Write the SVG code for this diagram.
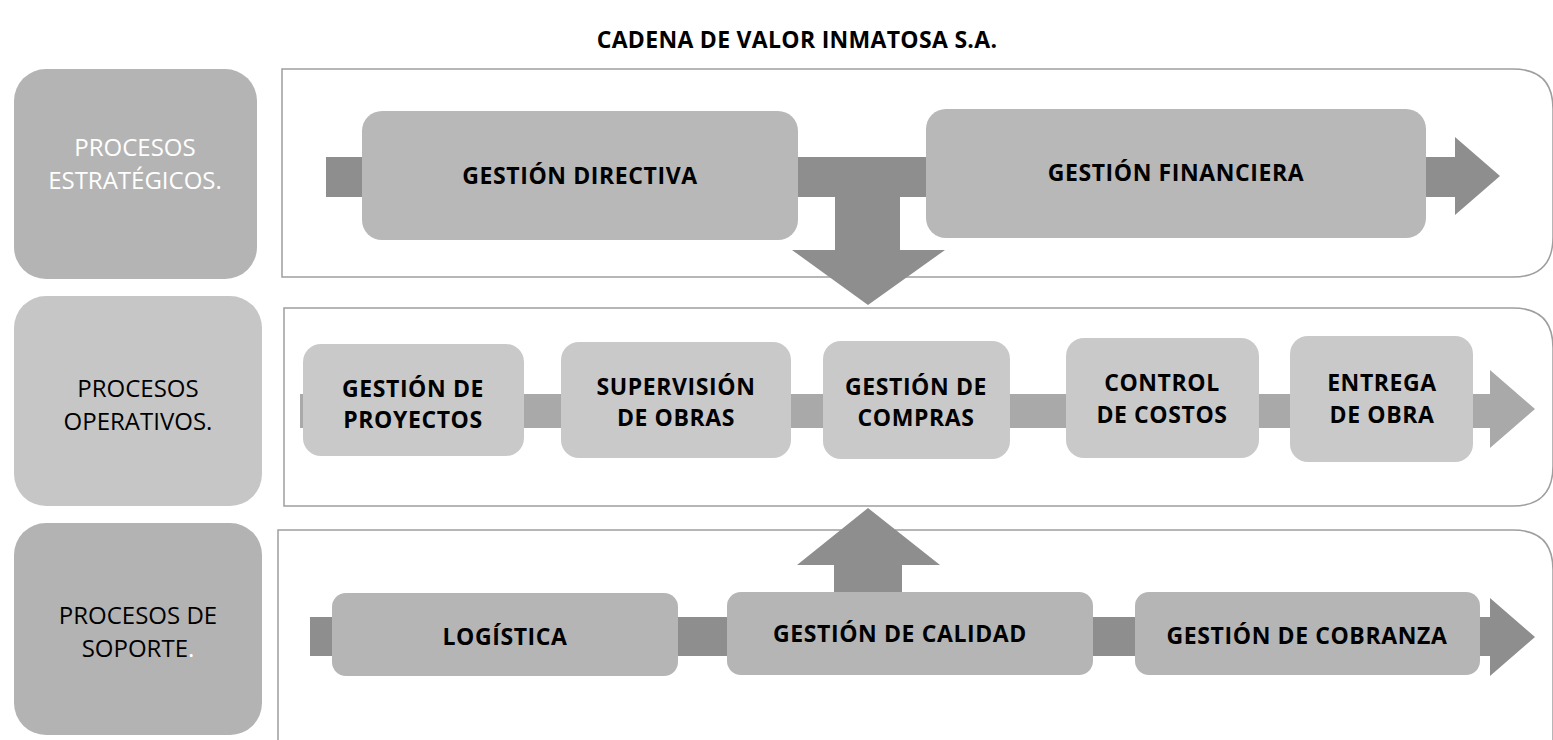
<svg xmlns="http://www.w3.org/2000/svg" width="1553" height="740" viewBox="0 0 1553 740">
<style>
  .lbl{font-family:"Open Sans","Liberation Sans",sans-serif;font-size:24px;text-anchor:middle}
  .b{font-family:"Open Sans","Liberation Sans",sans-serif;font-size:23px;font-weight:bold;letter-spacing:0.6px;text-anchor:middle;fill:#000}
  .cont{fill:#fff;stroke:#9e9e9e;stroke-width:1.5}
  .arrD{fill:#8e8e8e}
  .arrL{fill:#a9a9a9}
  .sBox{fill:#b8b8b8}
  .oBox{fill:#c9c9c9}
  .pBox{fill:#b5b5b5}
</style>
<rect width="1553" height="740" fill="#fff"/>
<text x="797" y="48" class="b" style="font-size:23px;letter-spacing:0.3px">CADENA DE VALOR INMATOSA S.A.</text>

<!-- left labels -->
<g id="lbl-estrategicos">
  <rect x="14" y="69" width="243" height="210" rx="32" fill="#b4b4b4"/>
  <text class="lbl" fill="#fff"><tspan x="135" y="156">PROCESOS</tspan><tspan x="135" y="189">ESTRATÉGICOS.</tspan></text>
</g>
<g id="lbl-operativos">
  <rect x="14" y="296" width="248" height="210" rx="32" fill="#c6c6c6"/>
  <text class="lbl" fill="#000"><tspan x="138" y="397">PROCESOS</tspan><tspan x="138" y="430">OPERATIVOS.</tspan></text>
</g>
<g id="lbl-soporte">
  <rect x="14" y="523" width="248" height="212" rx="32" fill="#b3b3b3"/>
  <text class="lbl" fill="#000"><tspan x="138" y="624">PROCESOS DE</tspan><tspan x="138" y="657">SOPORTE<tspan fill="#fff">.</tspan></tspan></text>
</g>

<!-- containers -->
<g id="containers">
  <path class="cont" d="M282,69 H1513 Q1553,69 1553,109 V237 Q1553,277 1513,277 H282 Z"/>
  <path class="cont" d="M284,308 H1513 Q1553,308 1553,348 V466 Q1553,506 1513,506 H284 Z"/>
  <path class="cont" d="M278,530 H1513 Q1553,530 1553,570 V760 H278 Z"/>
</g>

<!-- connectors -->
<g id="connectors">
  <polygon class="arrD" points="326,157 1455,157 1455,137 1500,176 1455,215 1455,197 326,197"/>
  <polygon class="arrD" points="835,197 900,197 900,250 945,250 868,305 792,250 835,250"/>
  <polygon class="arrL" points="300,394 1490,394 1490,370 1535,409 1490,448 1490,428 300,428"/>
  <polygon class="arrD" points="834,592 834,565 797,565 868,508 940,565 902,565 902,592"/>
  <polygon class="arrD" points="310,617 1490,617 1490,598 1535,637 1490,676 1490,656 310,656"/>
</g>

<!-- strategic nodes -->
<g id="gestion-directiva">
  <rect class="sBox" x="362" y="111" width="436" height="129" rx="20"/>
  <text class="b" x="580" y="184">GESTIÓN DIRECTIVA</text>
</g>
<g id="gestion-financiera">
  <rect class="sBox" x="926" y="109" width="500" height="129" rx="20"/>
  <text class="b" x="1176" y="181">GESTIÓN FINANCIERA</text>
</g>

<!-- operative nodes -->
<g id="gestion-proyectos">
  <rect class="oBox" x="303" y="344" width="221" height="112" rx="18"/>
  <text class="b"><tspan x="413" y="397">GESTIÓN DE</tspan><tspan x="413" y="428">PROYECTOS</tspan></text>
</g>
<g id="supervision-obras">
  <rect class="oBox" x="561" y="342" width="230" height="116" rx="18"/>
  <text class="b"><tspan x="676" y="395">SUPERVISIÓN</tspan><tspan x="676" y="426">DE OBRAS</tspan></text>
</g>
<g id="gestion-compras">
  <rect class="oBox" x="823" y="341" width="187" height="118" rx="18"/>
  <text class="b"><tspan x="916" y="395">GESTIÓN DE</tspan><tspan x="916" y="426">COMPRAS</tspan></text>
</g>
<g id="control-costos">
  <rect class="oBox" x="1066" y="338" width="193" height="120" rx="18"/>
  <text class="b"><tspan x="1162" y="391">CONTROL</tspan><tspan x="1162" y="423">DE COSTOS</tspan></text>
</g>
<g id="entrega-obra">
  <rect class="oBox" x="1290" y="336" width="183" height="126" rx="18"/>
  <text class="b"><tspan x="1382" y="391">ENTREGA</tspan><tspan x="1382" y="423">DE OBRA</tspan></text>
</g>

<!-- support nodes -->
<g id="logistica">
  <rect class="pBox" x="332" y="593" width="346" height="83" rx="14"/>
  <text class="b" x="505" y="645">LOGÍSTICA</text>
</g>
<g id="gestion-calidad">
  <rect class="pBox" x="727" y="592" width="366" height="83" rx="14"/>
  <text class="b" x="900" y="642">GESTIÓN DE CALIDAD</text>
</g>
<g id="gestion-cobranza">
  <rect class="pBox" x="1135" y="592" width="345" height="83" rx="14"/>
  <text class="b" x="1307" y="644">GESTIÓN DE COBRANZA</text>
</g>
</svg>
